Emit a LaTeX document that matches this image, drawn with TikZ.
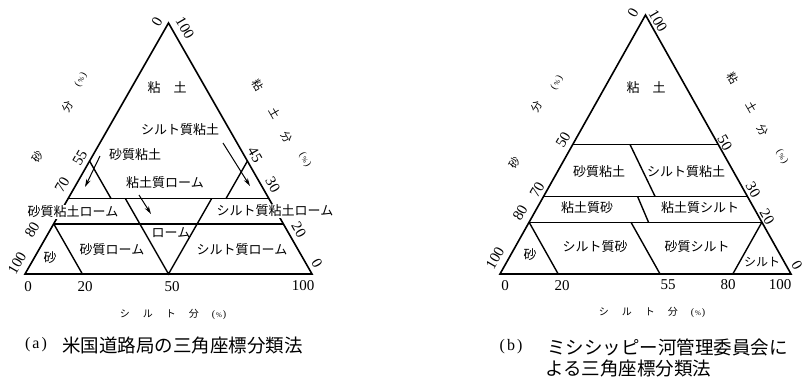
\documentclass[tikz,border=0pt]{standalone}
\usepackage{fontspec}
\setmainfont{Liberation Serif}
\newfontfamily\jp{Noto Sans CJK JP}
\usetikzlibrary{arrows.meta}
\newcommand\mypct{{\rmfamily\fontsize{10}{10}\selectfont(\kern1pt{\fontsize{7}{7}\selectfont\%}\kern1pt)}}
\newcommand\silttitle{シ\hspace{13pt}ル\hspace{13pt}ト\hspace{13pt}分\hspace{13pt}\mypct}
\begin{document}
\begin{tikzpicture}[x=1pt,y=-1pt,
  edge/.style={line width=1.6pt, line join=miter},
  div/.style={line width=1.4pt},
  region/.style={font=\jp\fontsize{13}{14}\selectfont, inner sep=0pt},
  mask/.style={fill=white, inner xsep=0pt, inner ysep=1pt},
  num/.style={font=\fontsize{15}{15}\selectfont, inner sep=0pt},
  ttl/.style={font=\jp\fontsize{11}{12}\selectfont, inner sep=0pt},
  captext/.style={font=\jp\fontsize{18.5}{20}\selectfont, inner sep=0pt, anchor=west},
  caplabel/.style={font=\fontsize{16}{16}\selectfont, inner sep=0pt},
  arr/.style={line width=1pt, -{Stealth[length=8pt,width=4.5pt]}},
]
\useasboundingbox (0,0) rectangle (804,376);

% ================= (a) =================
\coordinate (LA) at (25,274);
\coordinate (RA) at (312,274);
\coordinate (TA) at (168.5,23);
\coordinate (a30L) at (barycentric cs:LA=.70,RA=0,TA=.30);
\coordinate (a30R) at (barycentric cs:LA=0,RA=.70,TA=.30);
\coordinate (a20L) at (barycentric cs:LA=.80,RA=0,TA=.20);
\coordinate (a20R) at (barycentric cs:LA=0,RA=.80,TA=.20);
\coordinate (aS1) at (barycentric cs:LA=.80,RA=.20,TA=0);
\coordinate (aB50) at (barycentric cs:LA=.50,RA=.50,TA=0);
\coordinate (aV1) at (barycentric cs:LA=.50,RA=.20,TA=.30);
\coordinate (aV2) at (barycentric cs:LA=.20,RA=.50,TA=.30);
\coordinate (aK1) at (barycentric cs:LA=.55,RA=0,TA=.45);
\coordinate (aK2) at (barycentric cs:LA=.55,RA=.15,TA=.30);
\coordinate (aJ1) at (barycentric cs:LA=0,RA=.55,TA=.45);
\coordinate (aJ2) at (barycentric cs:LA=.15,RA=.55,TA=.30);

\draw[edge] (LA) -- (RA) -- (TA) -- cycle;
\draw[div] (a30L) -- (a30R);
\draw[div] (a20L) -- (a20R);
\draw[div] (aS1) -- (a20L);
\draw[div] (aV1) -- (aB50) -- (aV2);
\draw[div] (aK1) -- (aK2);
\draw[div] (aJ1) -- (aJ2);

% region labels
\node[region] (aClay) at (167,88) {粘　土};
\node[region] (aSiC) at (180,130) {シルト質粘土};
\node[region] (aSC) at (135,155) {砂質粘土};
\node[region] (aCL) at (165,183) {粘土質ローム};
\node[region, mask] (aSCL) at (73,212) {砂質粘土ローム};
\node[region, mask] (aSiCL) at (275,211) {シルト質粘土ローム};
\node[region] (aS) at (50,258) {砂};
\node[region] (aSL) at (112,250) {砂質ローム};
\node[region] (aL) at (171,233) {ローム};
\node[region] (aSiL) at (242,250) {シルト質ローム};

% arrows
\coordinate (aAr1s) at (100,156);
\coordinate (aAr1e) at (85,187);
\coordinate (aAr2s) at (223,143);
\coordinate (aAr2e) at (250,186);
\coordinate (aAr3s) at (139,195);
\coordinate (aAr3e) at (151,214);
\draw[arr] (aAr1s) -- (aAr1e);
\draw[arr] (aAr2s) -- (aAr2e);
\draw[arr] (aAr3s) -- (aAr3e);

% bottom numbers
\node[num] (an0) at (28,287) {0};
\node[num] (an20) at (85,287) {20};
\node[num] (an50) at (172,287) {50};
\node[num] (an100) at (303,286) {100};
% left edge numbers
\node[num, rotate=60] (al100) at (17,263) {100};
\node[num, rotate=60] (al80) at (32,230) {80};
\node[num, rotate=60] (al70) at (62,185) {70};
\node[num, rotate=60] (al55) at (80,158) {55};
\node[num, rotate=60] (at0) at (157,22) {0};
% right edge numbers
\node[num, rotate=-60] (at100) at (185,28) {100};
\node[num, rotate=-60] (ar45) at (255,155) {45};
\node[num, rotate=-60] (ar30) at (273,185) {30};
\node[num, rotate=-60] (ar20) at (299,230) {20};
\node[num, rotate=-60] (ar0) at (317,263) {0};
% axis titles
\node[ttl, rotate=60] (aT1) at (38,157) {砂};
\node[ttl, rotate=60] (aT2) at (68,107) {分};
\node[ttl, rotate=60] (aT3) at (81,80) {\mypct};
\node[ttl, rotate=-60] (aR1) at (258,85) {粘};
\node[ttl, rotate=-60] (aR2) at (275,113) {土};
\node[ttl, rotate=-60] (aR3) at (287,137) {分};
\node[ttl, rotate=-60] (aR4) at (305,160) {\mypct};
\node[ttl, font=\jp\fontsize{10}{10}\selectfont] (aB) at (173,314) {\silttitle};
% caption
\node[caplabel] (aCapL) at (36,345) {(\kern2pt a\kern2pt)};
\node[captext] (aCap) at (62,345) {米国道路局の三角座標分類法};

% ================= (b) =================
\coordinate (LB) at (500,274);
\coordinate (RB) at (791,274);
\coordinate (TB) at (645.5,15);
\coordinate (b50L) at (barycentric cs:LB=.50,RB=0,TB=.50);
\coordinate (b50R) at (barycentric cs:LB=0,RB=.50,TB=.50);
\coordinate (b30L) at (barycentric cs:LB=.70,RB=0,TB=.30);
\coordinate (b30R) at (barycentric cs:LB=0,RB=.70,TB=.30);
\coordinate (b20L) at (barycentric cs:LB=.80,RB=0,TB=.20);
\coordinate (b20R) at (barycentric cs:LB=0,RB=.80,TB=.20);
\coordinate (bS1) at (barycentric cs:LB=.80,RB=.20,TB=0);
\coordinate (bT1) at (barycentric cs:LB=.20,RB=.80,TB=0);
\coordinate (bD1) at (barycentric cs:LB=.45,RB=.55,TB=0);
\coordinate (bD2) at (barycentric cs:LB=.45,RB=.35,TB=.20);
\coordinate (bE1) at (648.5,222.2);
\coordinate (bE2) at (637.5,196.3);
\coordinate (bF1) at (655,196.3);
\coordinate (bF2) at (630,144.5);

\draw[edge] (LB) -- (RB) -- (TB) -- cycle;
\draw[div] (b50L) -- (b50R);
\draw[div] (b30L) -- (b30R);
\draw[div] (b20L) -- (b20R);
\draw[div] (bS1) -- (b20L);
\draw[div] (bT1) -- (b20R);
\draw[div] (bD1) -- (bD2);
\draw[div] (bE1) -- (bE2);
\draw[div] (bF1) -- (bF2);

% region labels
\node[region] (bClay) at (646,88) {粘　土};
\node[region] (bSC) at (599,172) {砂質粘土};
\node[region] (bSiC) at (686,172) {シルト質粘土};
\node[region] (bCS) at (587,208) {粘土質砂};
\node[region] (bCSi) at (700,208) {粘土質シルト};
\node[region] (bS) at (530,255) {砂};
\node[region] (bSiS) at (595,247) {シルト質砂};
\node[region] (bSSi) at (697,247) {砂質シルト};
\node[region, font=\jp\fontsize{12}{12}\selectfont] (bSi) at (762,262) {シルト};

% bottom numbers
\node[num] (bn0) at (505,286) {0};
\node[num] (bn20) at (562,286) {20};
\node[num] (bn55) at (668,285) {55};
\node[num] (bn80) at (728,285) {80};
\node[num] (bn100) at (780,285) {100};
% left edge numbers
\node[num, rotate=60] (bl100) at (495,258) {100};
\node[num, rotate=60] (bl80) at (520,213) {80};
\node[num, rotate=60] (bl70) at (537,190) {70};
\node[num, rotate=60] (bl50) at (563,140) {50};
\node[num, rotate=60] (bt0) at (633,13) {0};
% right edge numbers
\node[num, rotate=-60] (bt100) at (658,21) {100};
\node[num, rotate=-60] (br50) at (725,143) {50};
\node[num, rotate=-60] (br30) at (753,190) {30};
\node[num, rotate=-60] (br20) at (767,217) {20};
\node[num, rotate=-60] (br0) at (797,265) {0};
% axis titles
\node[ttl, rotate=60] (bT1) at (515,163) {砂};
\node[ttl, rotate=60] (bT2) at (537,107) {分};
\node[ttl, rotate=60] (bT3) at (557,83) {\mypct};
\node[ttl, rotate=-60] (bR1) at (733,78) {粘};
\node[ttl, rotate=-60] (bR2) at (752,107) {土};
\node[ttl, rotate=-60] (bR3) at (763,130) {分};
\node[ttl, rotate=-60] (bR4) at (782,157) {\mypct};
\node[ttl, font=\jp\fontsize{10}{10}\selectfont] (bB) at (652,312) {\silttitle};
% caption
\node[caplabel] (bCapL) at (511,347) {(\kern2pt b\kern2pt)};
\node[captext] (bCap1) at (547,347) {ミシシッピー河管理委員会に};
\node[captext] (bCap2) at (545,368) {よる三角座標分類法};
\end{tikzpicture}
\end{document}
